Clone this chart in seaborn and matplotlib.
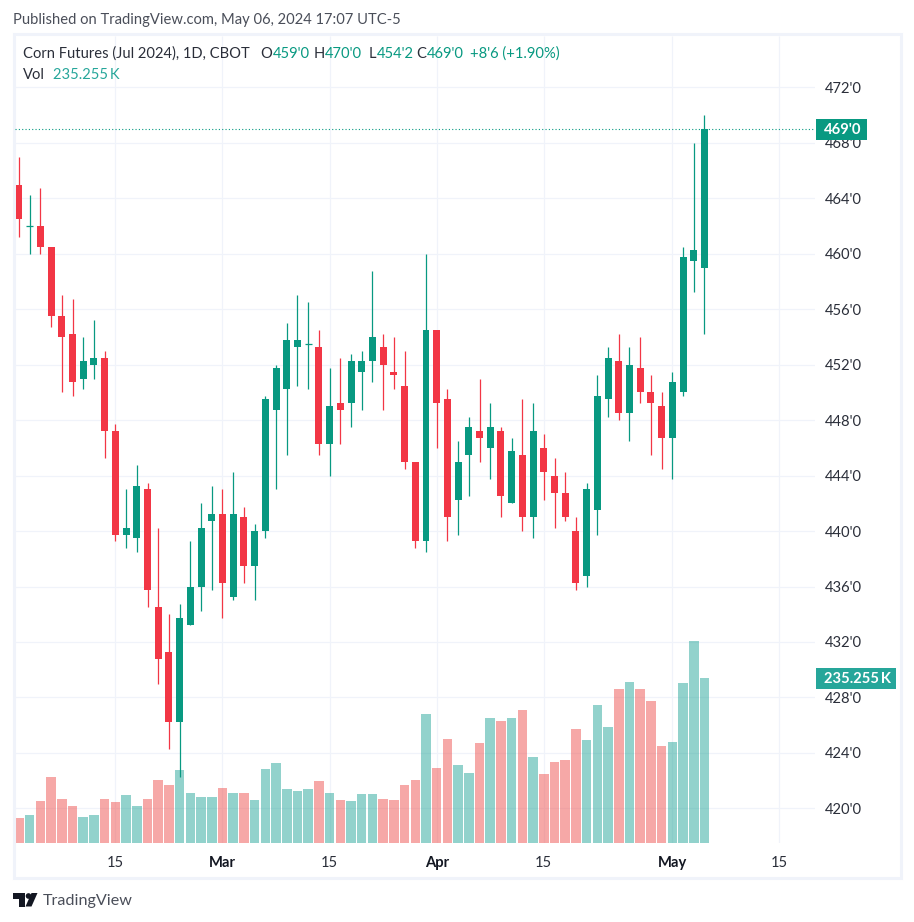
import numpy as np
import pandas as pd
import matplotlib
matplotlib.use("Agg")
import matplotlib.pyplot as plt
from matplotlib.patches import Rectangle, Circle, Polygon
import seaborn as sns

# daily OHLC, cents per bushel
opens = [465, 462, 462, 460.5, 455.5, 454.25, 451, 452, 452.5, 447.25, 439.75, 439.5, 443, 434.5, 431.25,
         426.25, 433.25, 436, 440.75, 441.25, 435.25, 441, 437.5, 440, 448.75, 450.25, 453.25, 453.5, 453.25, 446.25,
         449.25, 449.25, 451.5, 452.25, 453.25, 451.5, 450.5, 445, 439.25, 454.5, 449.5, 442.25, 445.5, 447.25, 446,
         447.25, 442, 445.5, 441, 446, 444, 442.75, 440, 436.75, 441.5, 449.5, 452.25, 448.5, 451.75, 450,
         449, 446.75, 450, 459.5, 459]
highs = [467, 464.25, 464.75, 460.5, 457, 456.75, 454, 455.25, 453, 447.75, 443, 444.75, 443.5, 440.25, 434,
         434.75, 439.25, 442, 443.25, 443, 444.25, 441.75, 440.5, 449.75, 452, 455, 457, 456.5, 454.5, 451.75,
         452.5, 452.75, 453, 458.75, 454.25, 454, 453, 445, 460, 454.5, 450.25, 446.5, 448.25, 451, 449.25,
         447.5, 446.75, 449.5, 449.25, 447, 445.25, 444.25, 441, 443.5, 451.25, 453.25, 454.25, 453.25, 454, 451.25,
         450, 451.5, 460.5, 468, 470]
lows = [461.25, 460, 460, 454.75, 450, 449.75, 450.25, 451, 445.25, 439.25, 438.75, 438.5, 434.5, 429, 424.25,
        422.25, 433.25, 434.25, 435.75, 433.75, 435, 436.25, 435, 439.5, 443, 445.5, 450.5, 450.25, 445.5, 444,
        446.25, 447.5, 448.75, 450.75, 448.75, 450.25, 444.5, 438.75, 438.5, 446, 439.25, 439.75, 442.5, 445, 443.75,
        441, 442, 440, 439.5, 442.25, 440.25, 440.75, 435.75, 436, 439.75, 448.25, 448, 446.5, 449.25, 445.5,
        444.5, 443.75, 449.75, 457.25, 454.25]
closes = [462.5, 462, 460.5, 455.5, 454, 450.75, 452.25, 452.5, 447.25, 439.75, 440.25, 443.25, 435.75, 430.75, 426.25,
          433.75, 436, 440.25, 441.25, 436.25, 441.25, 437.5, 440, 449.5, 451.75, 453.75, 453.75, 453.5, 446.25, 449,
          448.75, 452.25, 452.25, 454, 452, 451.25, 445, 439.25, 454.5, 449.25, 441, 445, 447.5, 446.75, 447.5,
          442.5, 445.75, 441, 447.25, 444.25, 442.75, 441, 436.25, 443, 449.75, 452.5, 448.5, 452, 450, 449.25,
          446.75, 450.75, 459.75, 460.25, 469]
# volume in thousands
volumes = [35.6, 39.9, 59.9, 94.1, 62.7, 52.8, 37.1, 39.9, 62.7, 58.5, 68.4, 52.8, 62.7, 89.8, 82.7,
           104.1, 71.3, 65.6, 65.6, 78.4, 71.3, 71.3, 61.3, 105.5, 114.1, 77, 74.1, 77, 88.4, 71.3,
           61.3, 59.9, 69.9, 69.9, 62.7, 61.3, 82.7, 89.8, 183.9, 106.9, 148.3, 111.2, 99.8, 142.6, 178.2,
           173.9, 178.2, 189.6, 122.6, 98.4, 115.5, 118.3, 162.5, 146.9, 196.8, 165.4, 219.6, 229.6, 219.6, 202.5,
           138.3, 144, 228.1, 288, 235.255]
price_ticks = [420, 424, 428, 432, 436, 440, 444, 448, 452, 456, 460, 464, 468, 472]
date_ticks = [9, 19, 29, 39, 49, 61, 71]
date_labels = ["15", "Mar", "15", "Apr", "15", "May", "15"]
month_labels = ["Mar", "Apr", "May"]

W, H = 914, 922
UP = "#089981"
DOWN = "#F23645"
VOL_UP = "#26a69a"
VOL_DOWN = "#ef5350"
GRID = "#f0f3fa"
INK = "#2a2e39"
FONT = ["Lato", "DejaVu Sans"]


def fx(x):
    return x / W


def fy(y):
    return 1 - y / H


def label(x, y, text, color=INK, size=10.6, **kw):
    fig.text(fx(x), fy(y), text, color=color, fontsize=size, va="center", family=FONT, zorder=6, **kw)


sns.set_theme(style="white")
plt.rcParams["font.family"] = FONT

df = pd.DataFrame({"day": np.arange(len(opens)), "open": opens, "high": highs, "low": lows,
                   "close": closes, "volume": volumes})
df["side"] = np.where(df["close"] >= df["open"], "up", "down")

fig = plt.figure(figsize=(W / 100, H / 100), dpi=100, facecolor="white")
ax_vol = fig.add_axes([fx(15), fy(843), 800 / W, 807 / H])
ax = ax_vol.twinx()
ax.set_zorder(ax_vol.get_zorder() + 1)
ax.patch.set_visible(False)

# volume underneath, grid goes under the translucent bars
sns.barplot(data=df, x="day", y="volume", hue="side", palette={"up": VOL_UP, "down": VOL_DOWN},
            native_scale=True, dodge=False, width=0.89, saturation=1, alpha=0.5, linewidth=0,
            legend=False, ax=ax_vol)
ax_vol.hlines(price_ticks, 0, 1, transform=ax.get_yaxis_transform(), colors=GRID, lw=0.85, zorder=0)
ax_vol.vlines(date_ticks, 0, 1, transform=ax_vol.get_xaxis_transform(), colors=GRID, lw=0.85, zorder=0)
ax_vol.set_ylim(0, 1150.6)
ax_vol.set_xlim(-0.373, 74.32)
ax_vol.set_xlabel("")
ax_vol.set_ylabel("")
ax_vol.set_yticks([])
ax_vol.set_xticks(date_ticks)
ax_vol.set_xticklabels(date_labels, fontsize=10.6, color=INK)
ax_vol.tick_params(axis="x", length=0, pad=9.5)
for tick in ax_vol.get_xticklabels():
    if tick.get_text() in month_labels:
        tick.set_fontweight("bold")
        tick.set_color("#131722")

# candles
colors = df["side"].map({"up": UP, "down": DOWN})
ax.vlines(df["day"], df["low"], df["high"], colors=colors, lw=0.9, zorder=2)
ax.bar(df["day"], (df["close"] - df["open"]).abs(), bottom=df[["open", "close"]].min(axis=1),
       width=0.65, color=colors, linewidth=0, zorder=3)
flat = df[df["open"] == df["close"]]
ax.hlines(flat["close"], flat["day"] - 0.33, flat["day"] + 0.33, colors=UP, lw=0.9, zorder=3)
ax.axhline(closes[-1], color=UP, lw=0.8, ls=(0, (1, 2)), zorder=1)

ax.set_ylim(417.497, 475.715)
ax.set_yticks(price_ticks)
ax.set_yticklabels([f"{p}'0" for p in price_ticks], fontsize=10.6, color=INK)
ax.yaxis.tick_right()
ax.tick_params(axis="y", length=0, pad=7.4)

for a in (ax, ax_vol):
    for s in a.spines.values():
        s.set_visible(False)

# panel frame
fig.add_artist(Rectangle((fx(13.5), fy(877.5)), 887.5 / W, 843 / H, transform=fig.transFigure,
                         fill=False, edgecolor=GRID, lw=2.2, zorder=1))

# header and legend
label(13, 20, "Published on TradingView.com, May 06, 2024 17:07 UTC-5", color="#4a4e59")
label(23, 54, "Corn Futures (Jul 2024), 1D, CBOT")
for x, t in [(272.5, "O"), (324.5, "H"), (376.5, "L"), (426.5, "C")]:
    label(x, 54, t, ha="right")
for x, t in [(273, "459'0"), (325, "470'0"), (377, "454'2"), (427, "469'0"), (470, "+8'6 (+1.90%)")]:
    label(x, 54, t, color=UP)
label(23, 75, "Vol")
label(53, 75, f"{volumes[-1]:.3f}\u2009K", color=VOL_UP)

# last value tags on the price scale
fig.add_artist(Rectangle((fx(816), fy(140)), 51 / W, 21 / H, transform=fig.transFigure, color=UP, lw=0, zorder=5))
label(843, 129.5, f"{closes[-1]:.0f}'0", color="white", ha="center", fontweight="bold")
fig.add_artist(Rectangle((fx(816), fy(689)), 80 / W, 21 / H, transform=fig.transFigure, color=VOL_UP, lw=0, zorder=5))
label(858, 678.5, f"{volumes[-1]:.3f}\u2009K", color="white", ha="center", fontweight="bold")

# footer logo
logo = "#131722"
fig.add_artist(Polygon([(fx(13), fy(893)), (fx(25), fy(893)), (fx(25), fy(906.5)), (fx(19), fy(906.5)),
                        (fx(19), fy(899)), (fx(13), fy(899))], transform=fig.transFigure, color=logo, lw=0))
fig.add_artist(Circle((fx(28.5), fy(896)), 2.8 / W, transform=fig.transFigure, color=logo, lw=0))
fig.add_artist(Polygon([(fx(31.5), fy(893)), (fx(37.5), fy(893)), (fx(31.5), fy(906.5)), (fx(25.5), fy(906.5))],
                       transform=fig.transFigure, color=logo, lw=0))
label(43, 900.5, "TradingView", color="#4a4e59", size=11.6)

fig.savefig("out.png", dpi=100, facecolor="white")
